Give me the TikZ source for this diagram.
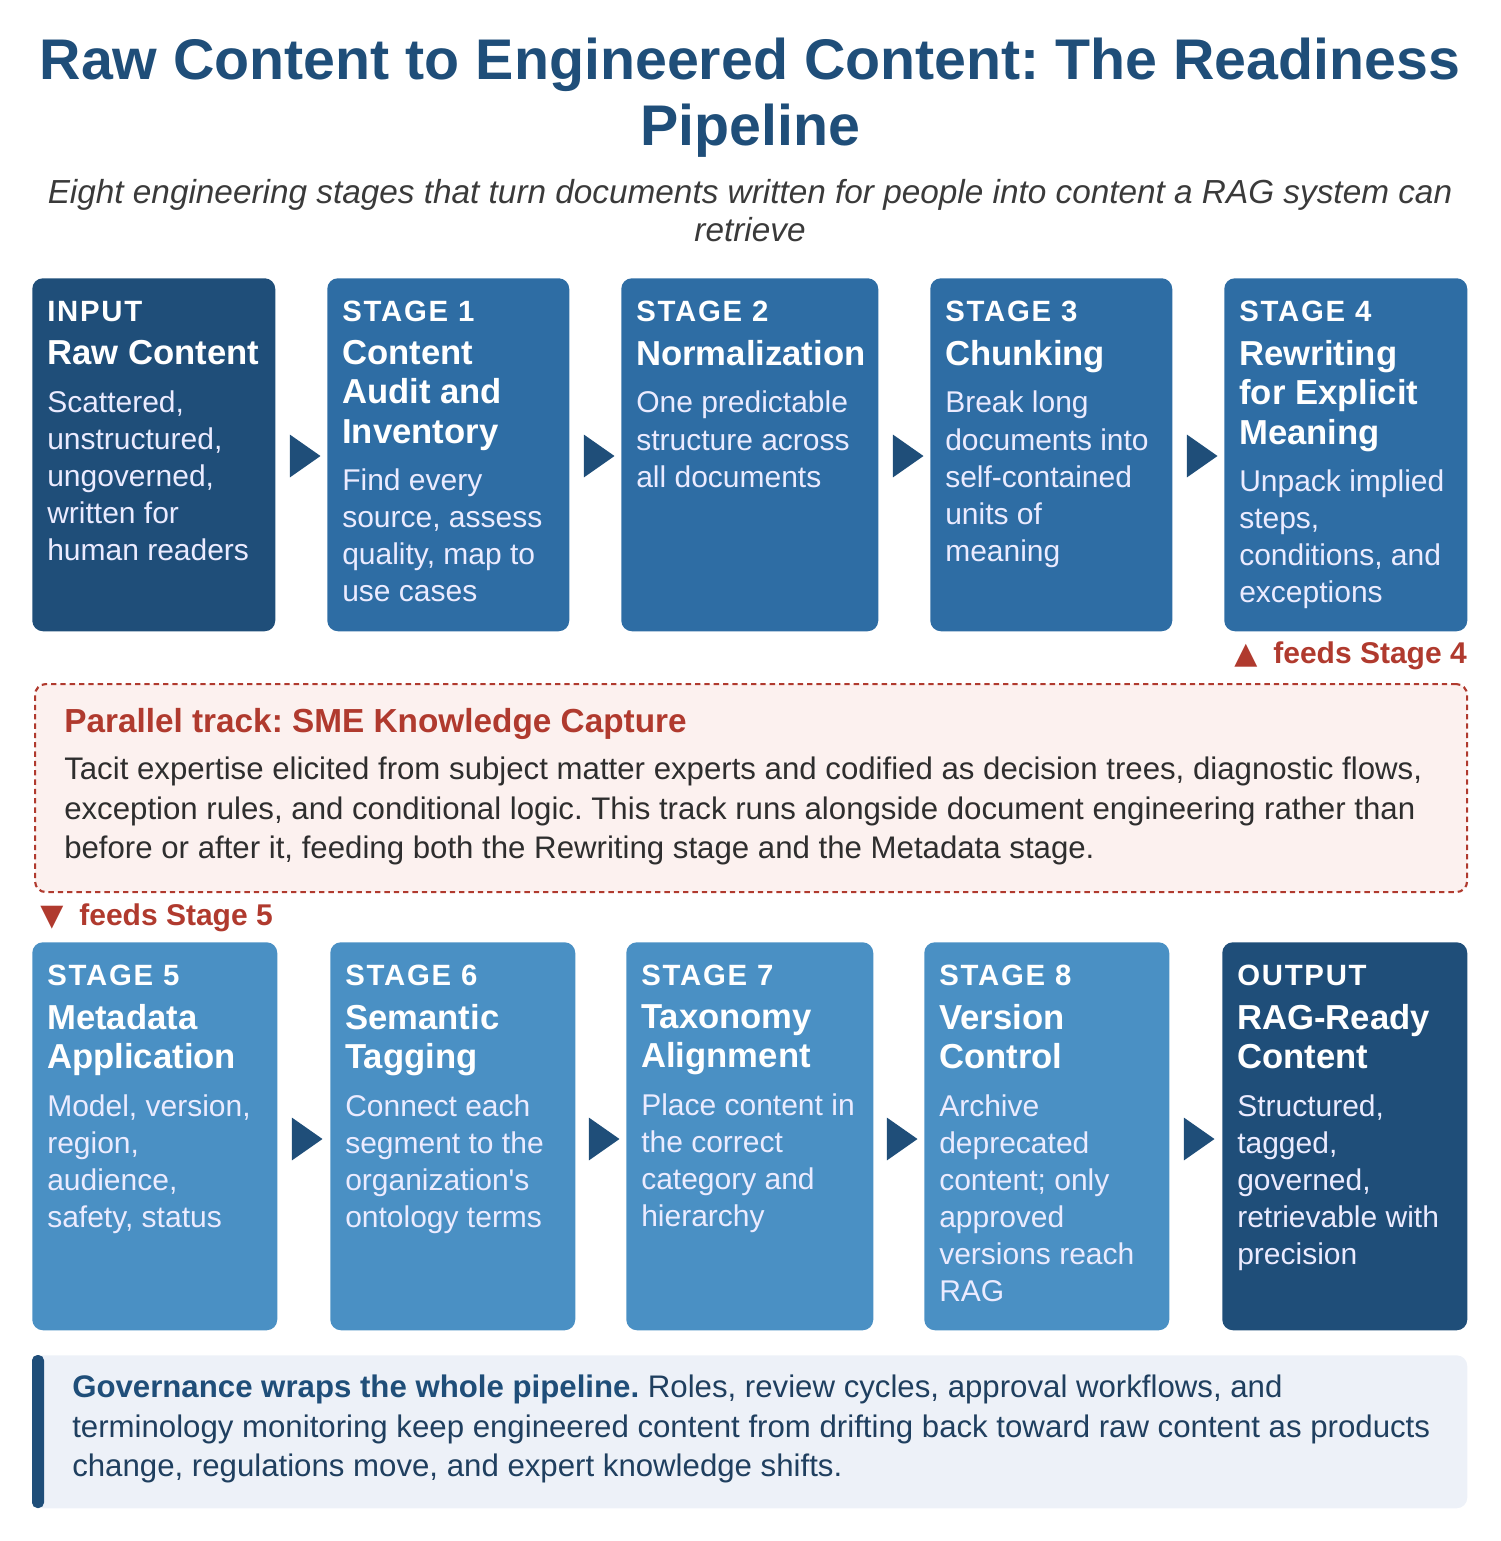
\documentclass[tikz,border=0pt]{standalone}
\usepackage{fontspec}
\setmainfont{Liberation Sans}
\usetikzlibrary{shapes.geometric}
\definecolor{dkb}{HTML}{1F4E79}
\definecolor{mdb}{HTML}{2E6DA4}
\definecolor{ltb}{HTML}{4A90C4}
\definecolor{red1}{HTML}{B03A2E}
\definecolor{pink1}{HTML}{FCF1EF}
\definecolor{gov}{HTML}{EDF1F8}
\definecolor{govtxt}{HTML}{1F3F5F}
\definecolor{sub}{HTML}{3A3A3A}
\frenchspacing
\tikzset{
 box/.style={rounded corners=8pt,draw=none,inner sep=0,anchor=north west},
 lab/.style={anchor=base west,inner sep=0,text=white,font=\fontsize{22}{26}\selectfont\bfseries\addfontfeatures{LetterSpace=6}},
 ttl/.style={anchor=north west,inner sep=0,text depth=0pt,text=white,align=left,font=\fontsize{26}{29.5}\selectfont\bfseries},
 bdy/.style={anchor=north west,inner sep=0,text=white!92!blue,align=left,font=\fontsize{22.5}{27.8}\selectfont},
 arr/.style={isosceles triangle,isosceles triangle apex angle=70,fill=dkb,inner sep=0,minimum height=23pt,minimum width=23pt}
}
\newcommand{\stg}[9]{%
 \node[box,fill=#6,minimum width={(#3-#2)*0.75pt},minimum height={(#5-#4)*0.75pt}] (#1) at (#2,#4) {};
 \node[lab] (#1l) at (#2+15,#4+43) {#7};
 \node[ttl] (#1t) at (#2+15,#4+62) {#8};
 \node[bdy] (#1b) at ([yshift=-19pt]#1t.south west) {#9};
}
\begin{document}
\begin{tikzpicture}[x=0.75pt,y=-0.75pt]
\useasboundingbox (0,0) rectangle (1500,1541);
\node[text=dkb,font=\fontsize{43}{49.5}\selectfont\bfseries,align=center] (title) at (750,98) {Raw Content to Engineered Content: The Readiness\\Pipeline};
\node[text=sub,font=\fontsize{25}{28.5}\selectfont\itshape,align=center] (subt) at (750,211) {Eight engineering stages that turn documents written for people into content a RAG system can\\retrieve};

\stg{s0}{32}{275}{278}{631}{dkb}{INPUT}{Raw Content}{Scattered,\\unstructured,\\ungoverned,\\written for\\human readers}
\stg{s1}{327}{569}{278}{631}{mdb}{STAGE 1}{Content\\Audit and\\Inventory}{Find every\\source, assess\\quality, map to\\use cases}
\stg{s2}{621}{878}{278}{631}{mdb}{STAGE 2}{Normalization}{One predictable\\structure across\\all documents}
\stg{s3}{930}{1172}{278}{631}{mdb}{STAGE 3}{Chunking}{Break long\\documents into\\self-contained\\units of\\meaning}
\stg{s4}{1224}{1467}{278}{631}{mdb}{STAGE 4}{Rewriting\\for Explicit\\Meaning}{Unpack implied\\steps,\\conditions, and\\exceptions}

\stg{s5}{32}{277}{942}{1330}{ltb}{STAGE 5}{Metadata\\Application}{Model, version,\\region,\\audience,\\safety, status}
\stg{s6}{330}{575}{942}{1330}{ltb}{STAGE 6}{Semantic\\Tagging}{Connect each\\segment to the\\organization\textquotesingle s\\ontology terms}
\stg{s7}{626}{873}{942}{1330}{ltb}{STAGE 7}{Taxonomy\\Alignment}{Place content in\\the correct\\category and\\hierarchy}
\stg{s8}{924}{1169}{942}{1330}{ltb}{STAGE 8}{Version\\Control}{Archive\\deprecated\\content; only\\approved\\versions reach\\RAG}
\stg{s9}{1222}{1467}{942}{1330}{dkb}{OUTPUT}{RAG-Ready\\Content}{Structured,\\tagged,\\governed,\\retrievable with\\precision}

\node[arr] (a1) at (301,456) {};
\node[arr] (a2) at (595,456) {};
\node[arr] (a3) at (904,456) {};
\node[arr] (a4) at (1198,456) {};
\node[arr] (a5) at (303,1139) {};
\node[arr] (a6) at (600,1139) {};
\node[arr] (a7) at (898,1139) {};
\node[arr] (a8) at (1195,1139) {};

\node[text=red1,font=\fontsize{22.5}{25}\selectfont\bfseries,anchor=east,inner sep=0] (f4) at (1467,656) {\fontspec{DejaVu Sans}▲\hspace{12pt}\fontspec{Liberation Sans}\bfseries feeds Stage 4};
\node[box,draw=red1,dash pattern=on 4pt off 3pt,line width=1.6pt,fill=pink1,minimum width={1432*0.75pt},minimum height={208*0.75pt}] (par) at (34,683) {};
\node[anchor=base west,inner sep=0,text=red1,font=\fontsize{25}{29}\selectfont\bfseries] (pt) at (64,732) {Parallel track: SME Knowledge Capture};
\node[anchor=north west,inner sep=0,text=sub!80!black,align=left,font=\fontsize{23.4}{29.5}\selectfont] (pb) at (64,757) {Tacit expertise elicited from subject matter experts and codified as decision trees, diagnostic flows,\\exception rules, and conditional logic. This track runs alongside document engineering rather than\\before or after it, feeding both the Rewriting stage and the Metadata stage.};
\node[text=red1,font=\fontsize{22.5}{25}\selectfont\bfseries,anchor=west,inner sep=0] (f5) at (40,918) {\fontspec{DejaVu Sans}▼\hspace{12pt}\fontspec{Liberation Sans}\bfseries feeds Stage 5};

\node[box,fill=gov,minimum width={1435*0.75pt},minimum height={153*0.75pt}] (g) at (32,1355) {};
\fill[dkb,rounded corners=4pt] (32,1355) rectangle (44,1508);
\node[anchor=north west,inner sep=0,text=govtxt,align=left,font=\fontsize{23.4}{29.5}\selectfont] (gt) at (72,1375) {\textcolor{dkb}{\bfseries Governance wraps the whole pipeline.} Roles, review cycles, approval workflows, and\\terminology monitoring keep engineered content from drifting back toward raw content as products\\change, regulations move, and expert knowledge shifts.};
\end{tikzpicture}
\end{document}
